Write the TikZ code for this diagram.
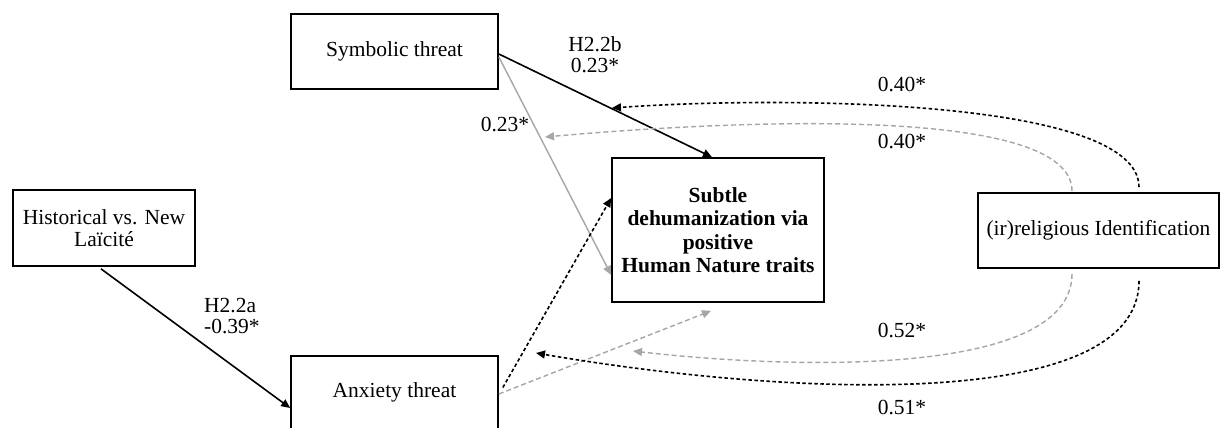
\documentclass[tikz,border=0pt]{standalone}
\usepackage{fontspec}
\setmainfont{Liberation Serif}
\usetikzlibrary{arrows.meta}
\definecolor{lightgr}{HTML}{A6A6A6}
\begin{document}
\begin{tikzpicture}[x=1pt,y=-1pt,
  box/.style={draw=black,line width=1.7pt,rectangle,inner sep=0pt,align=center,font=\fontsize{21.5}{22}\selectfont},
  lbl/.style={font=\fontsize{21.5}{21}\selectfont,inner sep=0pt,align=center},
  tip/.style={-{Triangle[length=9pt,width=8pt]}},
  blk/.style={tip,draw=black,line width=1.6pt},
  gry/.style={tip,draw=lightgr,line width=1.4pt},
  blkdash/.style={blk,dash pattern=on 3.5pt off 2.5pt},
  grydash/.style={gry,dash pattern=on 5pt off 3pt}]
\clip (0,0) rectangle (1220,428);
\fill[white] (0,0) rectangle (1220,428);
\node[box,minimum width=207pt,minimum height=75pt] (sym) at (394.5,51.5) {Symbolic threat};
\node[box,minimum width=212pt,minimum height=144pt,font=\bfseries\fontsize{21.5}{23.5}\selectfont] (sub) at (718,230) {Subtle\\dehumanization via\\positive\\Human Nature traits};
\node[box,minimum width=182pt,minimum height=76pt] (hist) at (104,228) {Historical vs. New\\Laïcité};
\node[box,minimum width=207pt,minimum height=73pt] (anx) at (394.5,392.5) {Anxiety threat};
\node[box,minimum width=241pt,minimum height=75pt] (ident) at (1098.5,230.5) {(ir)religious Identification};

\coordinate (t1) at (612,108);
\coordinate (t2) at (545,137);
\coordinate (t3) at (633,351);
\coordinate (t4) at (536,353);

% solid paths
\draw[blk] ([xshift=-3pt,yshift=-2pt]hist.south) -- ([yshift=-15.5pt]anx.west);
\draw[blk] ([yshift=-2.5pt]sym.east) -- ([xshift=-6pt]sub.north);
\draw[gry] ([yshift=-5.5pt]sym.east) -- ([yshift=-45pt]sub.west);
% anxiety to subtle
\draw[blkdash] ([xshift=4pt,yshift=5pt]anx.east) -- ([yshift=32pt]sub.west);
\draw[grydash] ([yshift=-1.5pt]anx.east) -- ([xshift=-7pt,yshift=-8pt]sub.south);
% curves from identification
\draw[blkdash] ([xshift=40.5pt,yshift=5pt]ident.north) .. controls (1139,98) and (780,96) .. (t1);
\draw[grydash] ([xshift=-26.5pt,yshift=1pt]ident.north) .. controls (1072,108) and (760,118) .. (t2);
\draw[grydash] ([xshift=-26.5pt,yshift=-5pt]ident.south) .. controls (1072,380) and (780,368) .. (t3);
\draw[blkdash] ([xshift=40.5pt,yshift=-12pt]ident.south) .. controls (1139,415) and (780,395) .. (t4);

% labels
\node[lbl] (l1) at (595,55) {H2.2b\\0.23*};
\node[lbl] (l2) at (505,125) {0.23*};
\node[lbl,align=left,anchor=west] (l3) at (204,316) {H2.2a\\-0.39*};
\node[lbl] (l4) at (902,85) {0.40*};
\node[lbl] (l5) at (902,142) {0.40*};
\node[lbl] (l6) at (902,330) {0.52*};
\node[lbl] (l7) at (902,407) {0.51*};
\end{tikzpicture}
\end{document}
